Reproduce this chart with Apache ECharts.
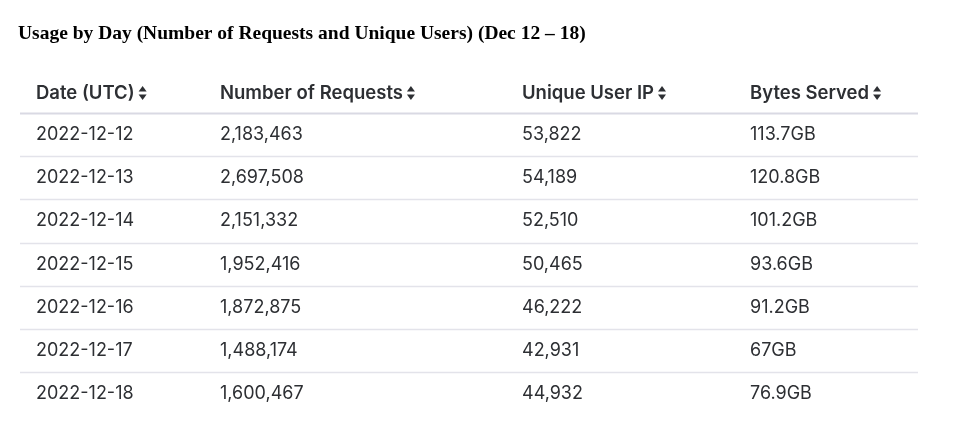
<!DOCTYPE html>
<html lang="en">
<head>
  <meta charset="UTF-8">
  <title>Usage by Day</title>
  <style>
    body { margin: 0; background: #fff; }
    #table { width: 972px; height: 430px; }
  </style>
  <script src="https://cdn.jsdelivr.net/npm/echarts@6/dist/echarts.min.js"></script>
</head>
<body>
<div id="table"></div>
<script>
  // table data
  var titleText = 'Usage by Day (Number of Requests and Unique Users) (Dec 12 – 18)';
  var headers = ['Date (UTC)', 'Number of Requests', 'Unique User IP', 'Bytes Served'];
  var dates = ['2022-12-12', '2022-12-13', '2022-12-14', '2022-12-15', '2022-12-16', '2022-12-17', '2022-12-18'];
  var requests = ['2,183,463', '2,697,508', '2,151,332', '1,952,416', '1,872,875', '1,488,174', '1,600,467'];
  var users = ['53,822', '54,189', '52,510', '50,465', '46,222', '42,931', '44,932'];
  var bytes = ['113.7GB', '120.8GB', '101.2GB', '93.6GB', '91.2GB', '67GB', '76.9GB'];

  var colX = [36, 220, 522, 750];
  var headY = 93, firstLine = 113, rowH = 43.2;
  var headFont = '600 18.5px Inter, "Noto Sans", sans-serif';
  var cellFont = '400 18px Inter, "Noto Sans", sans-serif';

  var myChart = echarts.init(document.getElementById('table'));

  var els = [];
  els.push({
    type: 'text', left: 18, top: 24,
    style: { text: titleText, font: 'bold 19.5px "Liberation Serif", serif', fill: '#000' }
  });

  headers.forEach(function (h, i) {
    els.push({
      type: 'text', x: colX[i], y: headY,
      style: { text: h, font: headFont, fill: '#2d2f33', textVerticalAlign: 'middle' }
    });
    var ax = colX[i] + echarts.format.getTextRect ? 0 : 0;
    ax = colX[i] + measure(h, headFont) + 4;
    els.push({ type: 'polygon', shape: { points: [[ax, headY - 1.5], [ax + 8, headY - 1.5], [ax + 4, headY - 7]] }, style: { fill: '#2d2f33' } });
    els.push({ type: 'polygon', shape: { points: [[ax, headY + 1.5], [ax + 8, headY + 1.5], [ax + 4, headY + 7]] }, style: { fill: '#2d2f33' } });
  });

  var cols = [dates, requests, users, bytes];
  for (var r = 0; r < dates.length; r++) {
    var ly = Math.round(firstLine + r * rowH) + 0.5;
    els.push({ type: 'line', shape: { x1: 20, y1: ly, x2: 918, y2: ly }, style: { stroke: r === 0 ? '#d9d9e3' : '#e3e3ea', lineWidth: r === 0 ? 2 : 1.5 } });
    cols.forEach(function (c, i) {
      els.push({
        type: 'text', x: colX[i], y: firstLine + (r + 0.5) * rowH,
        style: { text: c[r], font: cellFont, fill: '#2d2f33', textVerticalAlign: 'middle' }
      });
    });
  }

  // text width, used to place the sort arrows after each header
  function measure(t, f) {
    var ctx = document.createElement('canvas').getContext('2d');
    ctx.font = f;
    return ctx.measureText(t).width;
  }

  myChart.setOption({ backgroundColor: '#fff', animation: false, graphic: { elements: els } });
</script>
</body>
</html>
